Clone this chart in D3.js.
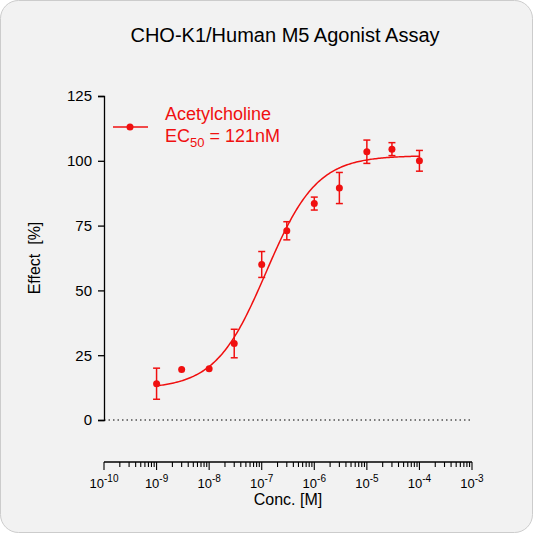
<!DOCTYPE html><html><head><script src="https://cdn.jsdelivr.net/npm/d3@7"></script>
<style>body{margin:0;background:#fff}</style></head><body><svg id="c" width="533" height="533"></svg>
<script>
const conc=[1e-9,3e-9,1e-8,3e-8,1e-7,3e-7,1e-6,3e-6,1e-5,3e-5,1e-4];
const effect=[14,19.5,19.8,29.5,60,73,83.5,89.5,103.5,104.5,100];
const errs=[6,0,0,5.5,5,3.5,2.5,6,4.5,2.5,4];
const fitParams={bottom:12,top:102,ec50:1.21e-7,hill:0.9};
const yTicks=[0,25,50,75,100,125];
const xExps=[-10,-9,-8,-7,-6,-5,-4,-3];
const red="#f01010";
const svg=d3.select("#c");
svg.append("rect").attr("x",0.5).attr("y",0.5).attr("width",532).attr("height",532).attr("rx",18).attr("fill","#f2f2f2").attr("stroke","#ccc");
const x=d3.scaleLog().domain([1e-10,1e-3]).range([104,472]);
const y=d3.scaleLinear().domain([0,125]).range([420,96]);
const F="Arial, 'Liberation Sans', sans-serif";
svg.append("text").attr("x",285).attr("y",42).attr("text-anchor","middle").attr("font-family",F).attr("font-size",20).text("CHO-K1/Human M5 Agonist Assay");
const ya=svg.append("g").attr("transform","translate(104,0)").call(d3.axisLeft(y).tickValues(yTicks).tickSize(6).tickPadding(6));
ya.selectAll("text").attr("font-family",F).attr("font-size",15).attr("fill","#000");
ya.selectAll("path,line").attr("stroke","#000").attr("stroke-width",1.3);
const xa=svg.append("g").attr("transform","translate(0,462)");
xa.append("line").attr("x1",104).attr("x2",472).attr("stroke","#000").attr("stroke-width",1.3);
for(let e=-10;e<-3;e++){for(let m=1;m<10;m++){const v=m*Math.pow(10,e);xa.append("line").attr("x1",x(v)).attr("x2",x(v)).attr("y2",m==1?8:5).attr("stroke","#000").attr("stroke-width",1.1);}}
xa.append("line").attr("x1",x(1e-3)).attr("x2",x(1e-3)).attr("y2",8).attr("stroke","#000").attr("stroke-width",1.1);
xExps.forEach(e=>{const t=xa.append("text").attr("x",x(Math.pow(10,e))).attr("y",26).attr("text-anchor","middle").attr("font-family",F).attr("font-size",13);
t.append("tspan").text("10");t.append("tspan").attr("dy",-6).attr("font-size",10).text(e);});
svg.append("text").attr("x",288).attr("y",505).attr("text-anchor","middle").attr("font-family",F).attr("font-size",16).text("Conc. [M]");
svg.append("text").attr("transform","translate(40,258) rotate(-90)").attr("text-anchor","middle").attr("font-family",F).attr("font-size",16).attr("xml:space","preserve").text("Effect  [%]");
svg.append("line").attr("x1",104).attr("x2",472).attr("y1",y(0)).attr("y2",y(0)).attr("stroke","#000").attr("stroke-dasharray","1.5,3");
const fit=c=>fitParams.bottom+(fitParams.top-fitParams.bottom)/(1+Math.pow(fitParams.ec50/c,fitParams.hill));
const xs=d3.range(0,201).map(i=>Math.pow(10,-9+5*i/200));
svg.append("path").attr("d",d3.line().x(c=>x(c)).y(c=>y(fit(c)))(xs)).attr("fill","none").attr("stroke",red).attr("stroke-width",1.5);
conc.forEach((c,i)=>{const g=svg.append("g").attr("stroke",red).attr("stroke-width",1.5);
 if(errs[i]>0){g.append("line").attr("x1",x(c)).attr("x2",x(c)).attr("y1",y(effect[i]-errs[i])).attr("y2",y(effect[i]+errs[i]));
 [effect[i]-errs[i],effect[i]+errs[i]].forEach(v=>g.append("line").attr("x1",x(c)-3.5).attr("x2",x(c)+3.5).attr("y1",y(v)).attr("y2",y(v)));}
 svg.append("circle").attr("cx",x(c)).attr("cy",y(effect[i])).attr("r",3.5).attr("fill",red);});
svg.append("line").attr("x1",113).attr("x2",148).attr("y1",127).attr("y2",127).attr("stroke",red).attr("stroke-width",1.5);
svg.append("circle").attr("cx",130).attr("cy",127).attr("r",3.5).attr("fill",red);
svg.append("text").attr("x",165).attr("y",120).attr("font-family",F).attr("font-size",18).attr("fill",red).text("Acetylcholine");
const lt=svg.append("text").attr("x",165).attr("y",142).attr("font-family",F).attr("font-size",18).attr("fill",red);
lt.append("tspan").text("EC");lt.append("tspan").attr("dy",5).attr("font-size",13).text("50");lt.append("tspan").attr("dy",-5).text(" = 121nM");
</script></body></html>
